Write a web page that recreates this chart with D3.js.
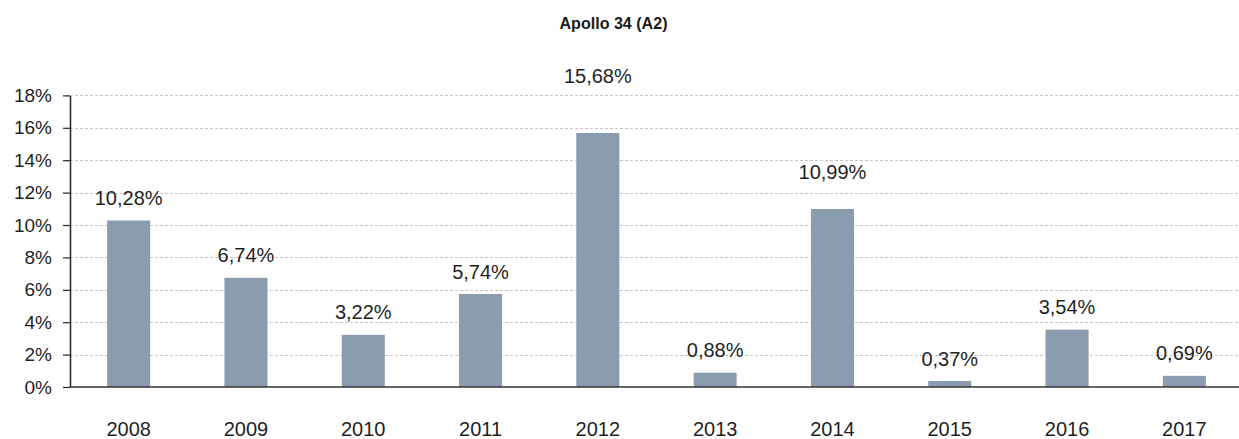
<!DOCTYPE html>
<html>
<head>
<meta charset="utf-8">
<script src="https://cdn.jsdelivr.net/npm/d3@7"></script>
<style>
  body { margin: 0; background: #fff; }
  svg { display: block; font-family: "Liberation Sans", Arial, sans-serif; }
</style>
</head>
<body>
<svg id="chart" width="1239" height="439"></svg>
<script>
const title = "Apollo 34 (A2)";
const years = ["2008", "2009", "2010", "2011", "2012", "2013", "2014", "2015", "2016", "2017"];
const growth = [10.28, 6.74, 3.22, 5.74, 15.68, 0.88, 10.99, 0.37, 3.54, 0.69];
const yTicks = [0, 2, 4, 6, 8, 10, 12, 14, 16, 18];
// a couple of labels were nudged upward by hand in the original
const labelLift = [0, 0, 0, 0, 34, 0, 14, 0, 0, 0];

const svg = d3.select("#chart");
const width = +svg.attr("width");
const plotLeft = 70, plotRight = 1243, plotTop = 95.4, plotBottom = 387;

const x = d3.scaleBand().domain(years).range([plotLeft, plotRight]).padding(0);
const y = d3.scaleLinear().domain([0, 18]).range([plotBottom, plotTop]);
const barW = x.bandwidth() * 0.367;
const fmt = v => v.toFixed(2).replace(".", ",") + "%";

// title (condensed look, original uses a narrow bold face)
svg.append("text")
  .attr("x", 613.5)
  .attr("y", 28.5)
  .attr("text-anchor", "middle")
  .attr("textLength", 108)
  .attr("lengthAdjust", "spacingAndGlyphs")
  .style("font-weight", "bold")
  .style("font-size", "17px")
  .style("fill", "#1a1a1a")
  .text(title);

// gridlines
svg.append("g")
  .selectAll("line")
  .data(yTicks.filter(d => d > 0))
  .enter().append("line")
  .attr("x1", plotLeft)
  .attr("x2", width)
  .attr("y1", d => Math.round(y(d)) + 0.5)
  .attr("y2", d => Math.round(y(d)) + 0.5)
  .attr("stroke", "#c4c4c4")
  .attr("stroke-dasharray", "3,2");

// bars
svg.append("g")
  .selectAll("rect")
  .data(growth)
  .enter().append("rect")
  .attr("x", (d, i) => x(years[i]) + (x.bandwidth() - barW) / 2)
  .attr("y", d => y(d))
  .attr("width", barW)
  .attr("height", d => plotBottom - y(d))
  .attr("fill", "#8a9cae");

// value labels
svg.append("g")
  .selectAll("text")
  .data(growth)
  .enter().append("text")
  .attr("x", (d, i) => x(years[i]) + x.bandwidth() / 2)
  .attr("y", (d, i) => y(d) - 15.5 - labelLift[i])
  .attr("text-anchor", "middle")
  .style("font-size", "20px")
  .style("fill", "#1f1f1f")
  .text(d => fmt(d));

// y axis
const yAxis = svg.append("g")
  .attr("transform", `translate(${plotLeft},0)`)
  .call(d3.axisLeft(y).tickValues(yTicks).tickFormat(d => d + "%").tickSize(7).tickSizeOuter(0).tickPadding(11));
yAxis.select(".domain").attr("stroke", "#222").attr("stroke-width", 1.5);
yAxis.selectAll(".tick line").attr("stroke", "#222").attr("stroke-width", 1.2);
yAxis.selectAll("text")
  .style("font-size", "19px")
  .style("font-family", "'Liberation Sans', Arial, sans-serif")
  .attr("fill", "#1f1f1f");

// x axis baseline
svg.append("line")
  .attr("x1", plotLeft)
  .attr("x2", width)
  .attr("y1", plotBottom)
  .attr("y2", plotBottom)
  .attr("stroke", "#333")
  .attr("stroke-width", 1.5);

// category labels
svg.append("g")
  .selectAll("text")
  .data(years)
  .enter().append("text")
  .attr("x", d => x(d) + x.bandwidth() / 2)
  .attr("y", 436)
  .attr("text-anchor", "middle")
  .style("font-size", "20px")
  .style("fill", "#1f1f1f")
  .text(d => d);
</script>
</body>
</html>
